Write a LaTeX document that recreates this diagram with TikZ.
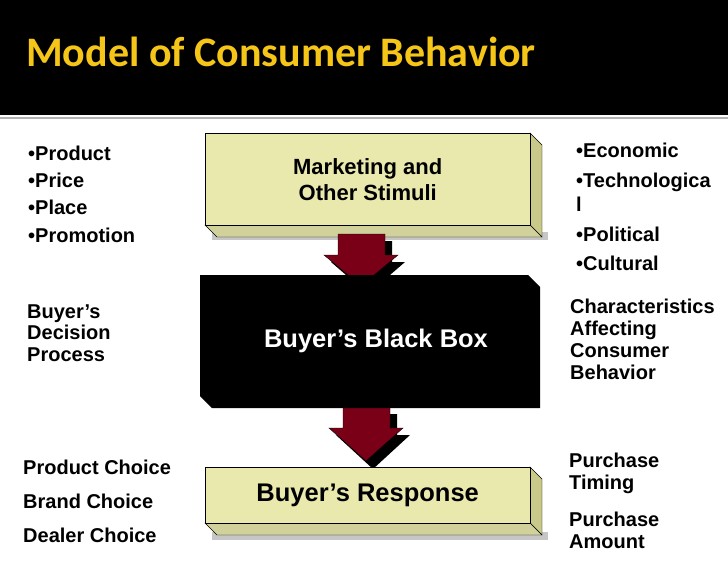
\documentclass[tikz,border=0pt]{standalone}
\usepackage{fontspec}
\setmainfont{Liberation Sans}
\newfontfamily\titlefont{Carlito}
\definecolor{khaki}{HTML}{E9E9AE}
\definecolor{khakid}{HTML}{C9C98A}
\definecolor{arrowred}{HTML}{7A0018}
\definecolor{titley}{HTML}{F5C518}
\begin{document}
\begin{tikzpicture}[x=1pt,y=-1pt,
  txt/.style={font=\fontsize{20}{22}\selectfont\bfseries,anchor=west,inner sep=0pt},
  boxtxt/.style={font=\fontsize{22}{26}\selectfont\bfseries,align=center,inner sep=0pt}]
\useasboundingbox (0,0) rectangle (728,563);
\fill[black] (0,0) rectangle (728,115);
\draw[gray!60,line width=1.5pt] (0,118) -- (728,118);
\node[anchor=west,inner sep=0pt,text=titley,font=\titlefont\fontsize{42}{44}\selectfont\bfseries] (title) at (26,52) {Model of Consumer Behavior};
% shadows
\fill[gray!45] (212,232) rectangle (548,240);
\fill[gray!45] (212,532) rectangle (548,540);
% top box
\fill[khakid,draw=black] (530,133) -- (542,145) -- (542,237) -- (530,225) -- cycle;
\fill[khakid!85,draw=black] (205,225) -- (530,225) -- (542,237) -- (217,237) -- cycle;
\node[fill=khaki,draw=black,minimum width=325,minimum height=92,boxtxt,anchor=north west] (stim) at (205,133) {Marketing and\\Other Stimuli};
% arrow 1
\fill[black] (345,241) -- (392,241) -- (392,262) -- (405,262) -- (368,294) -- (331,262) -- (345,262) -- cycle;
\fill[arrowred,draw=black] (338,234) -- (385,234) -- (385,255) -- (398,255) -- (361,286) -- (324,255) -- (338,255) -- cycle;
% black box
\fill[black] (200,275) -- (528,275) -- (540,287) -- (540,408) -- (212,408) -- (200,396) -- cycle;
\node[text=white,boxtxt,font=\fontsize{25.5}{28}\selectfont\bfseries] (bbox) at (376,341) {Buyer’s Black Box};
% arrow 2
\fill[black] (350,414) -- (397,414) -- (397,435) -- (410,435) -- (373,469) -- (336,435) -- (350,435) -- cycle;
\fill[arrowred,draw=black] (343,408) -- (390,408) -- (390,428) -- (403,428) -- (366,461) -- (329,428) -- (343,428) -- cycle;
% bottom box
\fill[khakid,draw=black] (530,467) -- (542,479) -- (542,535) -- (530,523) -- cycle;
\fill[khakid!85,draw=black] (205,523) -- (530,523) -- (542,535) -- (217,535) -- cycle;
\node[fill=khaki,draw=black,minimum width=325,minimum height=56,boxtxt,font=\fontsize{25.5}{28}\selectfont\bfseries,anchor=north west] (resp) at (205,467) {Buyer’s Response};
% left texts
\node[txt] (l1) at (28,153) {•Product};
\node[txt] (l2) at (28,180) {•Price};
\node[txt] (l3) at (28,207) {•Place};
\node[txt] (l4) at (28,235) {•Promotion};
\node[txt,align=left,font=\fontsize{20}{21.5}\selectfont\bfseries] (dp) at (27,333) {Buyer’s\\Decision\\Process};
\node[txt] (c1) at (23,467) {Product Choice};
\node[txt] (c2) at (23,501) {Brand Choice};
\node[txt] (c3) at (23,535) {Dealer Choice};
% right texts
\node[txt] (r1) at (576,150) {•Economic};
\node[txt,align=left,font=\fontsize{20}{24}\selectfont\bfseries] (r2) at (576,192) {•Technologica\\l};
\node[txt] (r3) at (576,234) {•Political};
\node[txt] (r4) at (576,263) {•Cultural};
\node[txt,align=left,font=\fontsize{20}{22}\selectfont\bfseries] (ch) at (570,339) {Characteristics\\Affecting\\Consumer\\Behavior};
\node[txt,align=left,font=\fontsize{20}{22}\selectfont\bfseries] (pt) at (569,473) {Purchase\\Timing};
\node[txt,align=left,font=\fontsize{20}{22}\selectfont\bfseries] (pa) at (569,530) {Purchase\\Amount};
\end{tikzpicture}
\end{document}
